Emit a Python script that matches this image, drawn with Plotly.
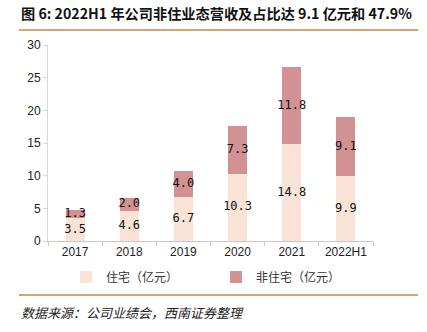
import plotly.graph_objects as go

years = ["2017", "2018", "2019", "2020", "2021", "2022H1"]
residential = [3.5, 4.6, 6.7, 10.3, 14.8, 9.9]
non_residential = [1.3, 2.0, 4.0, 7.3, 11.8, 9.1]
y_ticks = [0, 5, 10, 15, 20, 25, 30]

title_text = "图 6: 2022H1 年公司非住业态营收及占比达 9.1 亿元和 47.9%"
source_text = "数据来源：公司业绩会，西南证券整理"
name_res = "住宅（亿元）"
name_non = "非住宅（亿元）"

c_res = "#F9E3D6"
c_non = "#D29293"
gold = "#D1A76E"
cjk = "Noto Sans CJK SC"

W, H = 427, 332
L, R, T, B = 48, 54, 45, 91

fig = go.Figure()
fig.add_trace(go.Bar(x=years, y=residential, name=name_res, marker_color=c_res,
                     marker_line_width=0, width=0.35, legend="legend"))
fig.add_trace(go.Bar(x=years, y=non_residential, name=name_non, marker_color=c_non,
                     marker_line_width=0, width=0.35, legend="legend2"))

# value labels centred in each stacked segment
mid_res = [v / 2 for v in residential]
mid_non = [r + v / 2 for r, v in zip(residential, non_residential)]
for mids, vals in ((mid_res, residential), (mid_non, non_residential)):
    fig.add_trace(go.Scatter(x=years, y=mids, mode="text",
                             text=[f"{v:.1f}" for v in vals],
                             textfont=dict(family="DejaVu Sans Mono", size=12, color="#111"),
                             showlegend=False, hoverinfo="skip"))

legend_common = dict(orientation="h", xref="container", yref="container",
                     yanchor="middle", xanchor="left", bgcolor="rgba(0,0,0,0)",
                     font=dict(family=cjk, size=12, color="#333"), itemwidth=30)

fig.update_layout(
    barmode="stack",
    width=W, height=H,
    margin=dict(l=L, r=R, t=T, b=B, autoexpand=False),
    paper_bgcolor="white", plot_bgcolor="white",
    font=dict(family="Liberation Sans", size=12, color="#222"),
    showlegend=True,
    legend=dict(x=66 / W, y=1 - 277 / H, **legend_common),
    legend2=dict(x=216 / W, y=1 - 277 / H, **legend_common),
    xaxis=dict(showline=True, linecolor="#C8C8C8", linewidth=1, ticks="outside",
               tickson="boundaries", ticklen=4, tickcolor="#C8C8C8",
               tickfont=dict(size=12, color="#222"), range=[-0.5, 5.5]),
    yaxis=dict(range=[0, 30], tickvals=y_ticks, showgrid=False, showline=True,
               linecolor="#D8D8D8", linewidth=1, ticks="outside", ticklen=4,
               tickcolor="#D8D8D8", tickfont=dict(size=12, color="#222"), zeroline=False),
)

fig.add_annotation(text=f"<b>{title_text}</b>", xref="paper", yref="paper",
                   x=(19 - L) / (W - L - R), y=1 + (T - 13) / (H - T - B),
                   xanchor="left", yanchor="middle", showarrow=False,
                   font=dict(family=cjk, size=14.2, color="#111"))
fig.add_annotation(text=f"<i>{source_text}</i>", xref="paper", yref="paper",
                   x=(19 - L) / (W - L - R), y=-(312 - (H - B)) / (H - T - B),
                   xanchor="left", yanchor="middle", showarrow=False,
                   font=dict(family=cjk, size=13, color="#222"))

# gold rules under the title and above the source line
for ypix in (30, 295):
    fig.add_shape(type="line", xref="paper", yref="paper",
                  x0=(19 - L) / (W - L - R), x1=(418 - L) / (W - L - R),
                  y0=((H - B) - ypix) / (H - T - B), y1=((H - B) - ypix) / (H - T - B),
                  line=dict(color=gold, width=2))

fig.write_html("out.html")
